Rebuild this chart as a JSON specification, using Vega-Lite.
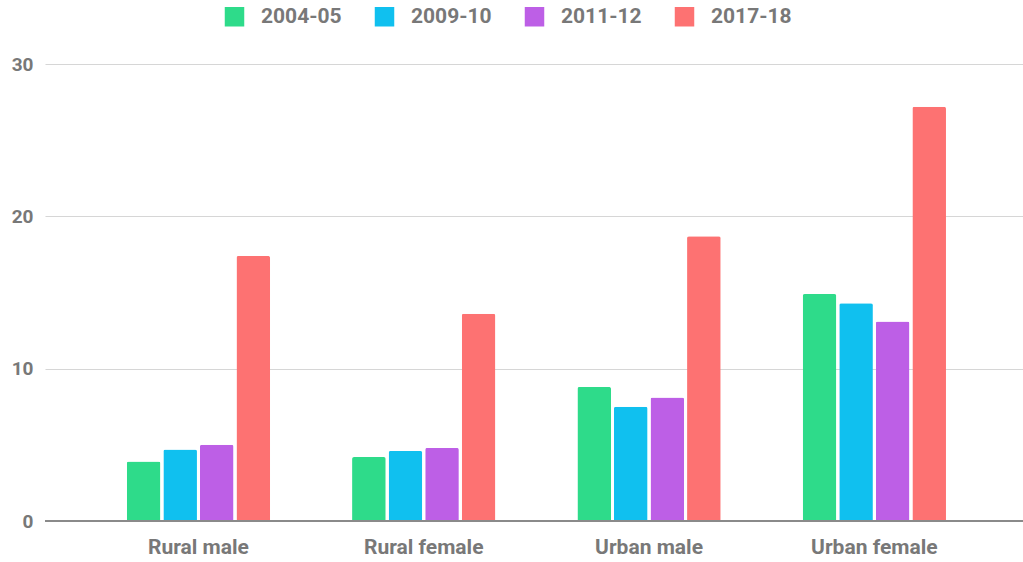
{
  "$schema": "https://vega.github.io/schema/vega-lite/v6.json",
  "width": 978,
  "height": 457,
  "padding": {"left": 45, "top": 64, "right": 0, "bottom": 41},
  "autosize": {"type": "none"},
  "background": "white",
  "data": {
    "values": [
      {"group": "Rural male", "period": "2004-05", "rate": 3.9},
      {"group": "Rural male", "period": "2009-10", "rate": 4.7},
      {"group": "Rural male", "period": "2011-12", "rate": 5.0},
      {"group": "Rural male", "period": "2017-18", "rate": 17.4},
      {"group": "Rural female", "period": "2004-05", "rate": 4.2},
      {"group": "Rural female", "period": "2009-10", "rate": 4.6},
      {"group": "Rural female", "period": "2011-12", "rate": 4.8},
      {"group": "Rural female", "period": "2017-18", "rate": 13.6},
      {"group": "Urban male", "period": "2004-05", "rate": 8.8},
      {"group": "Urban male", "period": "2009-10", "rate": 7.5},
      {"group": "Urban male", "period": "2011-12", "rate": 8.1},
      {"group": "Urban male", "period": "2017-18", "rate": 18.7},
      {"group": "Urban female", "period": "2004-05", "rate": 14.9},
      {"group": "Urban female", "period": "2009-10", "rate": 14.3},
      {"group": "Urban female", "period": "2011-12", "rate": 13.1},
      {"group": "Urban female", "period": "2017-18", "rate": 27.2}
    ]
  },
  "config": {
    "view": {"stroke": null},
    "font": "Roboto",
    "axis": {"labelFont": "Roboto", "labelFontWeight": "bold", "labelColor": "#787878"},
    "legend": {"labelFont": "Roboto", "labelFontWeight": "bold", "labelColor": "#787878"}
  },
  "layer": [
    {
      "mark": {"type": "bar", "cornerRadiusTopLeft": 2, "cornerRadiusTopRight": 2},
      "encoding": {
        "x": {
          "field": "group",
          "type": "nominal",
          "sort": ["Rural male", "Rural female", "Urban male", "Urban female"],
          "scale": {"paddingInner": 0.364, "paddingOuter": 0.3524, "align": 0.515},
          "axis": {
            "title": null,
            "labelAngle": 0,
            "labelFontSize": 21,
            "labelPadding": 15,
            "ticks": false,
            "domain": false,
            "grid": false
          }
        },
        "xOffset": {
          "field": "period",
          "type": "nominal",
          "scale": {"paddingInner": 0.08}
        },
        "y": {
          "field": "rate",
          "type": "quantitative",
          "scale": {"domain": [0, 30], "nice": false},
          "axis": {
            "title": null,
            "values": [0, 10, 20, 30],
            "labelFontSize": 19,
            "labelPadding": 12,
            "ticks": false,
            "domain": false,
            "gridColor": "#d6d6d6",
            "gridWidth": 1.2
          }
        },
        "color": {
          "field": "period",
          "type": "nominal",
          "scale": {
            "domain": ["2004-05", "2009-10", "2011-12", "2017-18"],
            "range": ["#2edb8a", "#10c0ef", "#bd5fe6", "#fd7272"]
          },
          "legend": {
            "title": null,
            "orient": "none",
            "direction": "horizontal",
            "legendX": 179,
            "legendY": -58,
            "symbolType": "square",
            "symbolSize": 380,
            "symbolStrokeWidth": 0,
            "symbolOpacity": 1,
            "labelFontSize": 21,
            "labelOffset": 16,
            "columnPadding": 32
          }
        }
      }
    },
    {
      "mark": {"type": "rule", "color": "#8a8a8a", "strokeWidth": 2},
      "encoding": {"y": {"datum": 0}}
    }
  ]
}
